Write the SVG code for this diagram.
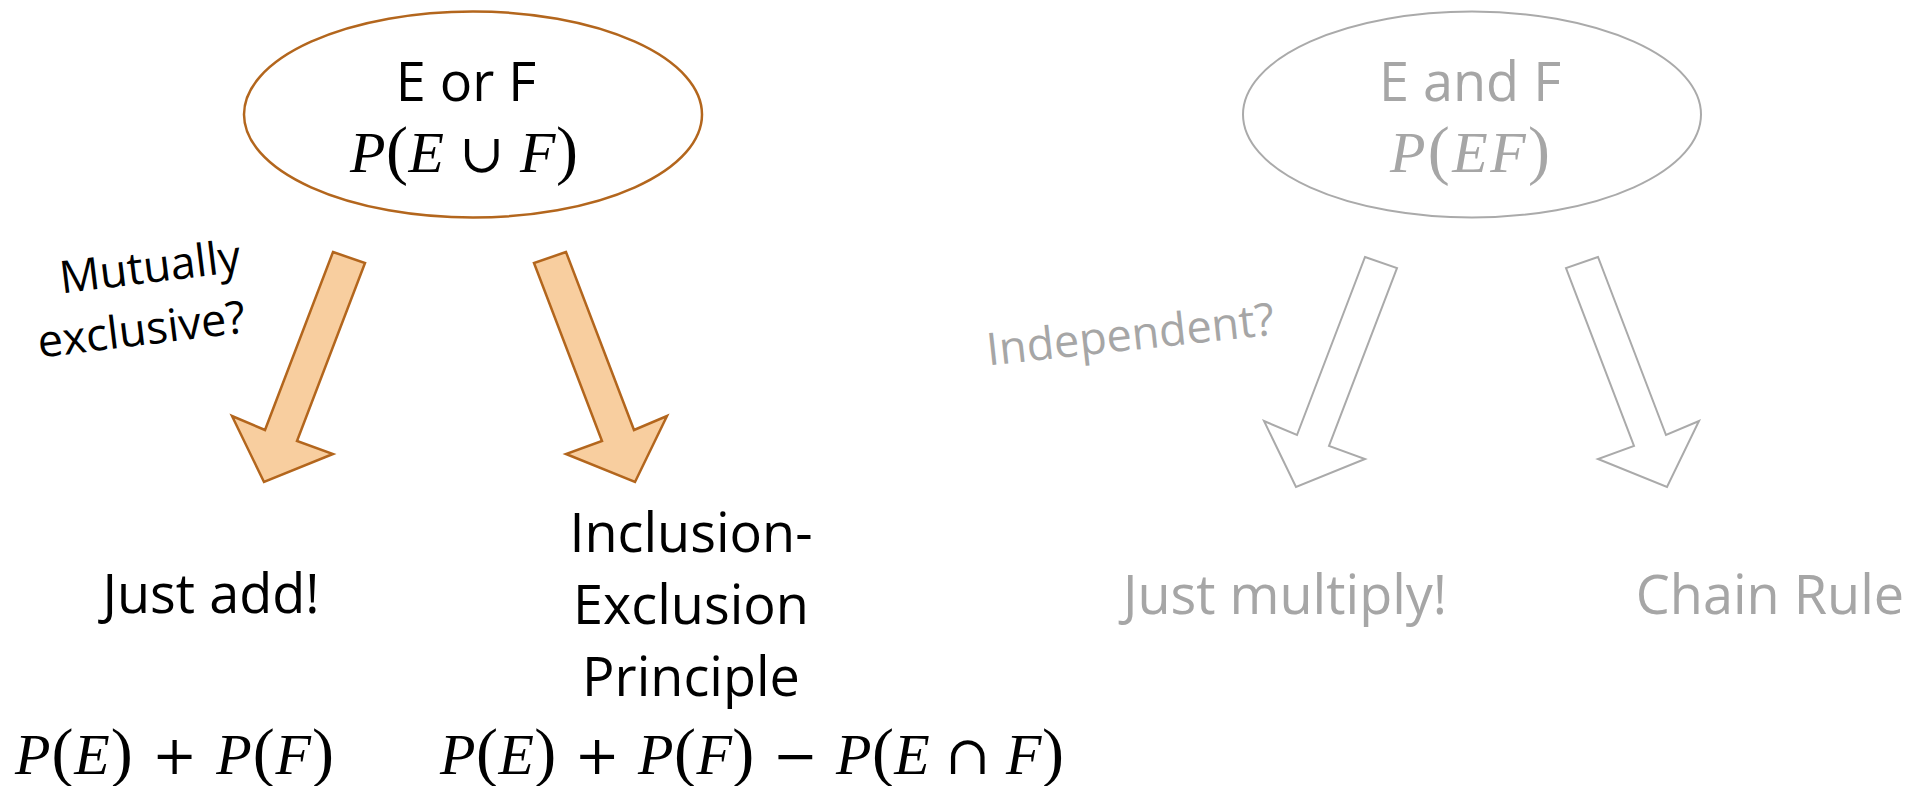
<svg xmlns="http://www.w3.org/2000/svg" width="1927" height="786" viewBox="0 0 1927 786">
<style>
.lbl{font-family:"Open Sans","Liberation Sans",sans-serif;font-size:54px;text-anchor:middle}
.q{font-family:"Open Sans","Liberation Sans",sans-serif;font-size:45px;text-anchor:middle}
.m{font-family:"Liberation Serif","DejaVu Serif",serif;font-size:58px;font-style:italic}
.m .u{font-style:normal}
.m .p{font-style:normal;font-size:66px}
.m .o{font-style:normal;font-family:"DejaVu Serif",serif;font-size:54px}
.blk{fill:#000}
.gry{fill:#a6a6a6}
.eo{fill:#fff;stroke:#b3661d;stroke-width:2.5}
.eg{fill:#fff;stroke:#aaaaaa;stroke-width:2}
.ao{fill:#f8ce9f;stroke:#b3661d;stroke-width:2.5;stroke-linejoin:miter}
.ag{fill:#fff;stroke:#aaaaaa;stroke-width:2;stroke-linejoin:miter}
</style>
<rect width="1927" height="786" fill="#fff"/>
<g id="node-e-or-f">
<ellipse class="eo" cx="473" cy="114.5" rx="229" ry="103"/>
<text class="lbl blk" x="466" y="101">E or F</text>
<text class="m blk" x="350" y="172" textLength="228" lengthAdjust="spacing">P<tspan class="p">(</tspan>E <tspan class="o">∪</tspan> F<tspan class="p">)</tspan></text>
</g>
<g id="node-e-and-f">
<ellipse class="eg" cx="1472" cy="114.5" rx="229" ry="103"/>
<text class="lbl gry" x="1470" y="101">E and F</text>
<text class="m gry" x="1390" y="172" textLength="160" lengthAdjust="spacing">P<tspan class="p">(</tspan>EF<tspan class="p">)</tspan></text>
</g>
<g id="connectors">
<polygon class="ao" points="333,252 365,263 297,441 333,454 264,482 232,416 265,430"/>
<polygon class="ao" points="566,252 534,263 602,441 566,454 635,482 667,416 634,430"/>
<polygon class="ag" points="1365,257 1397,268 1329,446 1365,459 1296,487 1264,421 1297,435"/>
<polygon class="ag" points="1598,257 1566,268 1634,446 1598,459 1667,487 1699,421 1666,435"/>
<g transform="translate(147.5,313.75) rotate(-7)">
<text class="q blk"><tspan x="8" y="-30.5">Mutually</tspan><tspan x="-8" y="30.5">exclusive?</tspan></text>
</g>
<g transform="translate(1132,350) rotate(-6.2)">
<text class="q gry" x="0" y="0">Independent?</text>
</g>
</g>
<g id="node-just-add">
<text class="lbl blk" x="211" y="613">Just add!</text>
<text class="m blk" x="15" y="774" textLength="319" lengthAdjust="spacing">P<tspan class="p">(</tspan>E<tspan class="p">)</tspan><tspan class="o"> + </tspan>P<tspan class="p">(</tspan>F<tspan class="p">)</tspan></text>
</g>
<g id="node-inclusion-exclusion">
<text class="lbl blk"><tspan x="691" y="552">Inclusion-</tspan><tspan x="691" y="624">Exclusion</tspan><tspan x="691" y="696">Principle</tspan></text>
<text class="m blk" x="440" y="774" textLength="624" lengthAdjust="spacing">P<tspan class="p">(</tspan>E<tspan class="p">)</tspan><tspan class="o"> + </tspan>P<tspan class="p">(</tspan>F<tspan class="p">)</tspan><tspan class="o"> − </tspan>P<tspan class="p">(</tspan>E <tspan class="o">∩</tspan> F<tspan class="p">)</tspan></text>
</g>
<g id="node-just-multiply">
<text class="lbl gry" x="1285" y="614">Just multiply!</text>
</g>
<g id="node-chain-rule">
<text class="lbl gry" x="1770" y="614">Chain Rule</text>
</g>
</svg>
